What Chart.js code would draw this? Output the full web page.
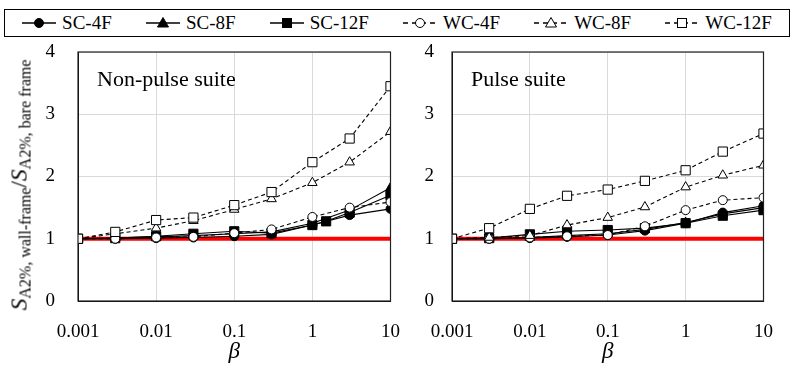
<!DOCTYPE html>
<html>
<head>
<meta charset="utf-8">
<script src="https://cdn.jsdelivr.net/npm/chart.js@4.4.1/dist/chart.umd.min.js"></script>
<style>
  body { margin: 0; background: #fff; }
  #wrap { position: relative; width: 793px; height: 368px; overflow: hidden; font-family: "Liberation Serif", "Times New Roman", serif; }
  canvas { position: absolute; top: 0; }
  #cLeft { left: 0; }
  #cRight { left: 400px; }
  #legend {
    position: absolute; left: 4px; top: 9px; width: 784px; height: 26px;
    border: 1px solid #000; display: flex; align-items: center; justify-content: space-around;
    font-size: 19px; background: #fff; z-index: 2;
  }
  #legend .item { display: flex; align-items: center; }
  #legend svg { margin-right: 6px; }
  #ytitle {
    position: absolute; left: 20px; top: 185px; transform: translate(-50%, -50%) rotate(-90deg);
    white-space: nowrap; font-size: 23.5px; z-index: 2;
  }
  #ytitle sub { font-size: 16px; vertical-align: -4px; font-style: normal; }
</style>
</head>
<body>
<div id="wrap">
  <canvas id="cLeft" width="420" height="368"></canvas>
  <canvas id="cRight" width="393" height="368"></canvas>
  <div id="legend"></div>
  <div id="ytitle"><i>S</i><sub>A2%, wall-frame</sub>/<i>S</i><sub>A2%, bare frame</sub></div>
</div>
<script>
// beta values (x axis)
var beta = [0.001, 0.003, 0.01, 0.03, 0.1, 0.3, 1, 3, 10];
var betaSc12NonPulse = [0.001, 0.003, 0.01, 0.03, 0.1, 0.3, 1, 1.5, 3, 10];
var xTicks = [0.001, 0.01, 0.1, 1, 10];
var refLineX = [0.001, 10];
var refLineY = [1, 1];

// Non-pulse suite
var sc4fNonPulse  = [1.00, 1.00, 1.01, 1.02, 1.04, 1.07, 1.22, 1.38, 1.48];
var sc8fNonPulse  = [1.00, 1.01, 1.03, 1.05, 1.08, 1.11, 1.25, 1.46, 1.82];
var sc12fNonPulse = [1.00, 1.01, 1.04, 1.08, 1.12, 1.09, 1.22, 1.28, 1.42, 1.70];
var wc4fNonPulse  = [1.00, 1.00, 1.02, 1.03, 1.09, 1.15, 1.35, 1.50, 1.59];
var wc8fNonPulse  = [1.00, 1.08, 1.17, 1.29, 1.47, 1.64, 1.90, 2.23, 2.72];
var wc12fNonPulse = [1.00, 1.11, 1.30, 1.34, 1.54, 1.75, 2.23, 2.61, 3.45];

// Pulse suite
var sc4fPulse  = [1.00, 1.00, 1.01, 1.03, 1.06, 1.13, 1.25, 1.42, 1.53];
var sc8fPulse  = [1.00, 1.00, 1.02, 1.05, 1.08, 1.15, 1.26, 1.40, 1.50];
var sc12fPulse = [1.00, 1.01, 1.07, 1.12, 1.14, 1.17, 1.25, 1.37, 1.46];
var wc4fPulse  = [1.00, 1.00, 1.02, 1.04, 1.06, 1.20, 1.46, 1.62, 1.66];
var wc8fPulse  = [1.00, 1.02, 1.05, 1.22, 1.34, 1.51, 1.83, 2.02, 2.18];
var wc12fPulse = [1.00, 1.17, 1.48, 1.69, 1.79, 1.93, 2.10, 2.40, 2.69];

var seriesNames = ['SC-4F', 'SC-8F', 'SC-12F', 'WC-4F', 'WC-8F', 'WC-12F'];
var yTicks = [0, 1, 2, 3, 4];

var FONT = "'Liberation Serif', 'Times New Roman', serif";

var estilos = [
  { forma: 'circle', relleno: '#000', radio: 4.5, dash: [] },
  { forma: 'triangle', relleno: '#000', radio: 5.5, dash: [] },
  { forma: 'rect', relleno: '#000', radio: 6.5, dash: [] },
  { forma: 'circle', relleno: '#fff', radio: 4.5, dash: [4, 3] },
  { forma: 'triangle', relleno: '#fff', radio: 5.5, dash: [4, 3] },
  { forma: 'rect', relleno: '#fff', radio: 6.5, dash: [4, 3] }
];

function puntos(xs, ys) {
  return xs.map(function (x, i) { return { x: x, y: ys[i] }; });
}

function armarDatasets(listas, xsPorSerie) {
  var ds = listas.map(function (vals, i) {
    var e = estilos[i];
    return {
      label: seriesNames[i],
      data: puntos(xsPorSerie[i], vals),
      borderColor: '#000',
      borderWidth: 1.1,
      borderDash: e.dash,
      pointStyle: e.forma,
      pointRadius: e.radio,
      pointBackgroundColor: e.relleno,
      pointBorderColor: '#000',
      pointBorderWidth: 1,
      showLine: true,
      order: 6 - i
    };
  });
  ds.push({
    label: 'ref',
    data: puntos(refLineX, refLineY),
    borderColor: '#ff0000',
    borderWidth: 4,
    pointRadius: 0,
    showLine: true,
    order: 20
  });
  return ds;
}

var bordePlugin = {
  id: 'borde',
  afterDraw: function (chart) {
    var a = chart.chartArea, ctx = chart.ctx;
    ctx.save();
    ctx.strokeStyle = '#222';
    ctx.lineWidth = 1.2;
    ctx.strokeRect(a.left, a.top, a.right - a.left, a.bottom - a.top);
    var txt = chart.options.plugins.panelLabel;
    ctx.fillStyle = '#000';
    ctx.font = '22px ' + FONT;
    ctx.textBaseline = 'middle';
    ctx.fillText(txt, a.left + 19, a.top + 28);
    ctx.restore();
  }
};

function opciones(anchoY, padY, padRight, etiqueta) {
  return {
    responsive: false,
    animation: false,
    layout: { padding: { top: 52, left: 0, right: padRight, bottom: 0 } },
    plugins: { legend: { display: false }, tooltip: { enabled: false }, panelLabel: etiqueta },
    scales: {
      x: {
        type: 'logarithmic',
        min: 0.001, max: 10,
        afterBuildTicks: function (s) { s.ticks = xTicks.map(function (v) { return { value: v }; }); },
        afterFit: function (s) { s.height = 67; },
        ticks: {
          color: '#000', font: { family: FONT, size: 19 }, padding: 20, maxRotation: 0,
          callback: function (v) { return String(v); }
        },
        grid: { color: '#d9d9d9', drawTicks: false },
        border: { color: '#000' },
        title: { display: true, text: 'β', color: '#000', font: { family: FONT, size: 23, style: 'italic' }, padding: { top: 0, bottom: 2 } }
      },
      y: {
        min: 0, max: 4,
        afterBuildTicks: function (s) { s.ticks = yTicks.map(function (v) { return { value: v }; }); },
        afterFit: function (s) { s.width = anchoY; },
        ticks: { color: '#000', font: { family: FONT, size: 19 }, padding: padY },
        grid: { color: '#d9d9d9', drawTicks: false },
        border: { color: '#000' }
      }
    }
  };
}

var xsNormal = [beta, beta, beta, beta, beta, beta];
var xsIzq = [beta, beta, betaSc12NonPulse, beta, beta, beta];

new Chart(document.getElementById('cLeft'), {
  type: 'scatter',
  data: { datasets: armarDatasets([sc4fNonPulse, sc8fNonPulse, sc12fNonPulse, wc4fNonPulse, wc8fNonPulse, wc12fNonPulse], xsIzq) },
  options: opciones(78, 23, 23, 'Non-pulse suite'),
  plugins: [bordePlugin]
});

new Chart(document.getElementById('cRight'), {
  type: 'scatter',
  data: { datasets: armarDatasets([sc4fPulse, sc8fPulse, sc12fPulse, wc4fPulse, wc8fPulse, wc12fPulse], xsNormal) },
  options: opciones(52, 18, 25, 'Pulse suite'),
  plugins: [bordePlugin]
});

// leyenda en HTML con muestras de linea + marcador
function muestraSVG(e) {
  var marca;
  if (e.forma === 'circle') {
    marca = '<circle cx="17" cy="8" r="' + e.radio + '" fill="' + e.relleno + '" stroke="#000"/>';
  } else if (e.forma === 'triangle') {
    marca = '<polygon points="17,2.5 22.5,12 11.5,12" fill="' + e.relleno + '" stroke="#000"/>';
  } else {
    marca = '<rect x="12.5" y="3.5" width="9" height="9" fill="' + e.relleno + '" stroke="#000"/>';
  }
  var dash = e.dash.length ? ' stroke-dasharray="5,4"' : '';
  return '<svg width="34" height="16"><line x1="0" y1="8" x2="34" y2="8" stroke="#000" stroke-width="1.5"' + dash + '/>' + marca + '</svg>';
}

var leyenda = document.getElementById('legend');
seriesNames.forEach(function (n, i) {
  var d = document.createElement('div');
  d.className = 'item';
  d.innerHTML = muestraSVG(estilos[i]) + '<span>' + n + '</span>';
  leyenda.appendChild(d);
});
</script>
</body>
</html>
